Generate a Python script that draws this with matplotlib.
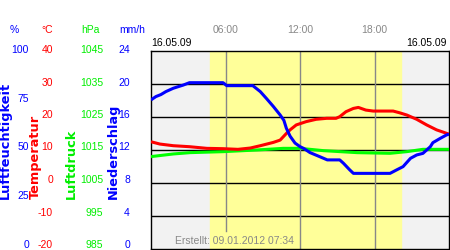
import matplotlib
matplotlib.use("Agg")
import matplotlib.pyplot as plt
import matplotlib.transforms as mtransforms

# Tageswerte 16.05.09 (Stunden seit Mitternacht)
hum_h = [0, 0.4, 0.8, 1.2, 1.8, 2.2, 2.6, 3.1, 4.0, 5.0, 5.8, 6.1, 7.0, 8.2,
         8.8, 9.3, 9.85, 10.4, 10.7, 10.9, 11.2, 11.6, 12.0, 12.3, 12.8, 13.6,
         14.2, 15.2, 15.5, 16.0, 16.3, 17.5, 18.5, 19.25, 19.8, 20.3, 20.9,
         21.4, 21.9, 22.5, 22.7, 23.3, 23.8, 24.0]
hum = [75.3, 77, 78, 79.5, 81.2, 82, 82.8, 84, 84, 84, 84, 82.5, 82.5, 82.5,
       79.5, 76, 72, 67.7, 65, 61, 57, 53.5, 51.7, 50.8, 48.7, 46.6,
       45, 45, 43.3, 40, 38.2, 38.2, 38.2, 38.2, 40, 41.6, 45.8,
       47.5, 48.3, 51.7, 53.7, 55.9, 57.6, 58.0]

temp_h = [0, 0.72, 1.8, 3.1, 4.5, 5.8, 7.0, 8.0, 8.8, 9.85, 10.4, 10.65, 10.9,
          11.2, 11.7, 12.5, 13.3, 14.15, 14.9, 15.2, 15.7, 16.3, 16.7, 17.3,
          17.9, 19.5, 20.0, 20.6, 21.4, 22.2, 23.0, 24.0]
temp = [12.5, 11.8, 11.3, 11.0, 10.5, 10.4, 10.2, 10.6, 11.3, 12.3, 13.0, 14.0,
        15.0, 16.1, 17.6, 18.6, 19.3, 19.6, 19.6, 20.1, 21.6, 22.6, 22.9, 22.1,
        21.8, 21.8, 21.3, 20.6, 19.3, 17.6, 16.1, 14.8]

pres_h = [0, 1.8, 3.14, 5.83, 8.5, 10.65, 12.0, 13.9, 16.6, 19.25, 20.6, 21.9, 24.0]
pres = [1013.0, 1013.8, 1014.2, 1014.5, 1015.0, 1015.5, 1015.5, 1014.8,
        1014.2, 1014.0, 1014.5, 1015.2, 1015.2]

sunrise, sunset = 4.75, 20.1

hum_ticks = [0, 25, 50, 75, 100]
temp_ticks = [-20, -10, 0, 10, 20, 30, 40]
pres_ticks = [985, 995, 1005, 1015, 1025, 1035, 1045]
rain_ticks = [0, 4, 8, 12, 16, 20, 24]
hour_ticks = [6, 12, 18]
hour_labels = ["06:00", "12:00", "18:00"]

BLUE, RED, GREEN, GREY = "#0000ff", "#ff0000", "#00ee00", "#888888"
plt.rcParams["font.family"] = ["Liberation Sans", "DejaVu Sans"]
FS = 7.5
LW = 2.2

fig = plt.figure(figsize=(4.5, 2.5), dpi=100)
W, H = 450.0, 250.0
ax = fig.add_axes([151 / W, 1 - 249 / H, 298 / W, 198 / H])
ax.set_xlim(0, 24)
ax.set_ylim(temp_ticks[0], temp_ticks[-1])
ax.set_facecolor("#f2f2f2")
ax.axvspan(sunrise, sunset, color="#ffff99", zorder=0)
for t in temp_ticks[1:-1]:
    ax.axhline(t, color="black", lw=1, zorder=1)
for i, hh in enumerate(hour_ticks):
    ax.axvline(hh, ymin=0.09 if i == 0 else 0, color=GREY, lw=1, zorder=1)
ax.set_xticks([])
ax.set_yticks([])
for s in ax.spines.values():
    s.set_color("black")
    s.set_linewidth(1)

axP = ax.twinx()
axP.set_ylim(pres_ticks[0], pres_ticks[-1])
axP.plot(pres_h, pres, color="#00ff00", lw=LW, solid_capstyle="butt")
axT = ax.twinx()
axT.set_ylim(temp_ticks[0], temp_ticks[-1])
axT.plot(temp_h, temp, color=RED, lw=LW, solid_capstyle="butt")
axH = ax.twinx()
axH.set_ylim(hum_ticks[0], hum_ticks[-1])
axH.plot(hum_h, hum, color=BLUE, lw=LW, solid_capstyle="butt")
for a in (axP, axT, axH):
    a.set_xlim(0, 24)
    a.axis("off")

# Skalenbeschriftung links: eigene unsichtbare Achse (50..245 px)
lab = fig.add_axes([0, 1 - 245 / H, 1, 195 / H])
lab.axis("off")
lab.set_xlim(0, W)
lab.set_ylim(0, 1)


def scale_labels(ticks, x_px, color):
    lo, hi = ticks[0], ticks[-1]
    for v in ticks:
        lab.text(x_px, (v - lo) / (hi - lo), str(v), ha="right", va="center",
                 color=color, fontsize=FS)


scale_labels(hum_ticks, 29, BLUE)
scale_labels(temp_ticks, 53, RED)
scale_labels(pres_ticks, 103, GREEN)
scale_labels(rain_ticks, 130, BLUE)

# Einheiten
for x, txt, c in [(14, "%", BLUE), (47, "°C", RED), (90, "hPa", GREEN), (132, "mm/h", BLUE)]:
    fig.text(x / W, 1 - 30 / H, txt, ha="center", va="center", color=c, fontsize=FS)

# Achsentitel
for x, txt, c in [(5, "Luftfeuchtigkeit", BLUE), (35, "Temperatur", RED),
                  (71.5, "Luftdruck", GREEN), (113, "Niederschlag", BLUE)]:
    fig.text(x / W, 1 - 199 / H, txt, rotation=90, ha="center", va="bottom",
             color=c, fontsize=9.3, fontweight="bold", family="DejaVu Sans")

# Uhrzeiten oben
tr_top = mtransforms.blended_transform_factory(ax.transData, fig.transFigure)
for hh, lb in zip(hour_ticks, hour_labels):
    fig.text(hh, 1 - 30 / H, lb, transform=tr_top, ha="center", va="center",
             color=GREY, fontsize=FS)

fig.text(151 / W, 1 - 43.5 / H, "16.05.09", ha="left", va="center", color="black", fontsize=FS)
fig.text(447 / W, 1 - 43.5 / H, "16.05.09", ha="right", va="center", color="black", fontsize=FS)
fig.text(175 / W, 1 - 241 / H, "Erstellt: 09.01.2012 07:34", ha="left", va="center",
         color=GREY, fontsize=FS)

fig.savefig("out.png", dpi=100)
